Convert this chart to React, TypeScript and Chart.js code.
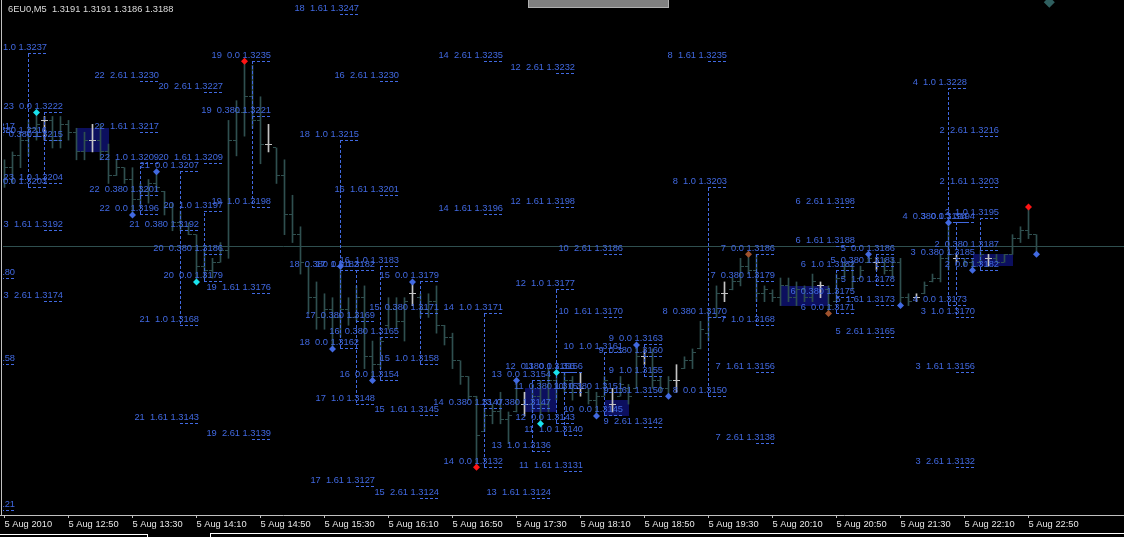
import React, { useEffect, useRef } from "react";
import { Chart, registerables } from "chart.js";

Chart.register(...registerables);

// Instrument header: symbol, timeframe and last bar O H L C
const chartTitle = "6EU0,M5  1.3191 1.3191 1.3186 1.3188";

// 5-minute OHLC bars, 5 Aug 2010 12:10 .. 22:55
const barOpen = [
  1.3205, 1.3208, 1.3211, 1.3215, 1.3218, 1.3220, 1.3220, 1.3215, 1.3219, 1.3217,
  1.3212, 1.3215, 1.3215, 1.3212, 1.3206, 1.3208, 1.3205, 1.3200, 1.3202, 1.3204,
  1.3202, 1.3198, 1.3194, 1.3193, 1.3191, 1.3183, 1.3182, 1.3184, 1.3187, 1.3215,
  1.3222, 1.3226, 1.3220, 1.3214, 1.3213, 1.3206, 1.3196, 1.3191, 1.3183, 1.3175,
  1.3170, 1.3172, 1.3170, 1.3172, 1.3170, 1.3175, 1.3160, 1.3158, 1.3168, 1.3172,
  1.3169, 1.3176, 1.3175, 1.3172, 1.3174, 1.3168, 1.3165, 1.3159, 1.3155, 1.3150,
  1.3141, 1.3145, 1.3146, 1.3144, 1.3146, 1.3148, 1.3148, 1.3150, 1.3148, 1.3154,
  1.3152, 1.3154, 1.3152, 1.3151, 1.3149, 1.3150, 1.3148, 1.3150, 1.3152, 1.3152,
  1.3160, 1.3160, 1.3154, 1.3152, 1.3154, 1.3157, 1.3159, 1.3162, 1.3166, 1.3170,
  1.3176, 1.3177, 1.3179, 1.3183, 1.3182, 1.3176, 1.3176, 1.3175, 1.3178, 1.3175,
  1.3177, 1.3175, 1.3178, 1.3177, 1.3174, 1.3180, 1.3183, 1.3180, 1.3184, 1.3184,
  1.3184, 1.3182, 1.3184, 1.3175, 1.3175, 1.3176, 1.3179, 1.3180, 1.3185, 1.3185,
  1.3185, 1.3184, 1.3184, 1.3185, 1.3185, 1.3184, 1.3186, 1.3190, 1.3192, 1.3191,
];
const barHigh = [
  1.3210, 1.3212, 1.3217, 1.3220, 1.3222, 1.3221, 1.3221, 1.3221, 1.3220, 1.3218,
  1.3217, 1.3219, 1.3219, 1.3214, 1.3210, 1.3208, 1.3208, 1.3204, 1.3205, 1.3207,
  1.3202, 1.3199, 1.3197, 1.3194, 1.3191, 1.3187, 1.3185, 1.3189, 1.3220, 1.3225,
  1.3235, 1.3234, 1.3226, 1.3219, 1.3213, 1.3210, 1.3201, 1.3193, 1.3183, 1.3179,
  1.3176, 1.3175, 1.3183, 1.3175, 1.3178, 1.3178, 1.3164, 1.3165, 1.3175, 1.3175,
  1.3175, 1.3179, 1.3176, 1.3176, 1.3178, 1.3168, 1.3166, 1.3159, 1.3155, 1.3150,
  1.3147, 1.3148, 1.3151, 1.3146, 1.3154, 1.3151, 1.3153, 1.3154, 1.3157, 1.3156,
  1.3156, 1.3155, 1.3156, 1.3152, 1.3151, 1.3155, 1.3152, 1.3155, 1.3153, 1.3163,
  1.3162, 1.3162, 1.3155, 1.3155, 1.3158, 1.3160, 1.3162, 1.3169, 1.3172, 1.3178,
  1.3179, 1.3180, 1.3185, 1.3186, 1.3186, 1.3178, 1.3177, 1.3180, 1.3180, 1.3179,
  1.3178, 1.3181, 1.3179, 1.3178, 1.3181, 1.3184, 1.3184, 1.3183, 1.3186, 1.3185,
  1.3185, 1.3185, 1.3185, 1.3176, 1.3176, 1.3179, 1.3181, 1.3186, 1.3195, 1.3186,
  1.3185, 1.3185, 1.3187, 1.3186, 1.3186, 1.3186, 1.3191, 1.3193, 1.3198, 1.3191,
];
const barLow = [
  1.3203, 1.3204, 1.3208, 1.3211, 1.3215, 1.3215, 1.3213, 1.3213, 1.3215, 1.3210,
  1.3210, 1.3212, 1.3210, 1.3204, 1.3206, 1.3204, 1.3196, 1.3198, 1.3199, 1.3202,
  1.3196, 1.3192, 1.3192, 1.3191, 1.3179, 1.3180, 1.3180, 1.3184, 1.3185, 1.3211,
  1.3216, 1.3218, 1.3209, 1.3212, 1.3204, 1.3191, 1.3189, 1.3181, 1.3171, 1.3167,
  1.3167, 1.3162, 1.3165, 1.3168, 1.3169, 1.3157, 1.3154, 1.3157, 1.3167, 1.3167,
  1.3164, 1.3173, 1.3170, 1.3170, 1.3166, 1.3163, 1.3157, 1.3153, 1.3149, 1.3132,
  1.3141, 1.3143, 1.3143, 1.3138, 1.3146, 1.3145, 1.3146, 1.3143, 1.3146, 1.3149,
  1.3151, 1.3149, 1.3150, 1.3148, 1.3145, 1.3150, 1.3146, 1.3150, 1.3148, 1.3152,
  1.3158, 1.3152, 1.3151, 1.3150, 1.3151, 1.3157, 1.3157, 1.3162, 1.3164, 1.3170,
  1.3174, 1.3177, 1.3178, 1.3181, 1.3174, 1.3174, 1.3174, 1.3173, 1.3174, 1.3173,
  1.3174, 1.3174, 1.3175, 1.3171, 1.3174, 1.3180, 1.3177, 1.3180, 1.3184, 1.3182,
  1.3181, 1.3180, 1.3173, 1.3173, 1.3174, 1.3176, 1.3179, 1.3179, 1.3182, 1.3184,
  1.3183, 1.3182, 1.3184, 1.3183, 1.3184, 1.3184, 1.3186, 1.3189, 1.3190, 1.3186,
];
const barClose = [
  1.3208, 1.3211, 1.3215, 1.3218, 1.3219, 1.3220, 1.3215, 1.3219, 1.3217, 1.3212,
  1.3215, 1.3215, 1.3212, 1.3206, 1.3208, 1.3205, 1.3200, 1.3202, 1.3204, 1.3203,
  1.3198, 1.3194, 1.3193, 1.3191, 1.3183, 1.3182, 1.3184, 1.3187, 1.3215, 1.3222,
  1.3226, 1.3220, 1.3214, 1.3214, 1.3206, 1.3196, 1.3191, 1.3184, 1.3175, 1.3170,
  1.3172, 1.3170, 1.3172, 1.3170, 1.3175, 1.3160, 1.3158, 1.3164, 1.3172, 1.3169,
  1.3174, 1.3176, 1.3172, 1.3174, 1.3168, 1.3165, 1.3159, 1.3155, 1.3150, 1.3140,
  1.3145, 1.3146, 1.3144, 1.3145, 1.3152, 1.3148, 1.3150, 1.3148, 1.3154, 1.3152,
  1.3154, 1.3151, 1.3152, 1.3149, 1.3150, 1.3154, 1.3148, 1.3153, 1.3150, 1.3160,
  1.3160, 1.3154, 1.3152, 1.3154, 1.3154, 1.3159, 1.3161, 1.3167, 1.3170, 1.3176,
  1.3176, 1.3179, 1.3183, 1.3182, 1.3176, 1.3177, 1.3175, 1.3178, 1.3175, 1.3177,
  1.3175, 1.3179, 1.3178, 1.3173, 1.3180, 1.3183, 1.3179, 1.3182, 1.3185, 1.3184,
  1.3182, 1.3184, 1.3175, 1.3174, 1.3175, 1.3178, 1.3180, 1.3185, 1.3186, 1.3185,
  1.3184, 1.3183, 1.3186, 1.3185, 1.3184, 1.3186, 1.3190, 1.3192, 1.3191, 1.3188,
];

// Time axis: one label every 8 bars (40 minutes)
const timeTickIndex = [0, 8, 16, 24, 32, 40, 48, 56, 64, 72, 80, 88, 96, 104, 112, 120, 128];
const timeTickLabels = [
  "5 Aug 2010", "5 Aug 12:50", "5 Aug 13:30", "5 Aug 14:10", "5 Aug 14:50", "5 Aug 15:30",
  "5 Aug 16:10", "5 Aug 16:50", "5 Aug 17:30", "5 Aug 18:10", "5 Aug 18:50", "5 Aug 19:30",
  "5 Aug 20:10", "5 Aug 20:50", "5 Aug 21:30", "5 Aug 22:10", "5 Aug 22:50",
];

// Fibonacci level labels: swing number, ratio, price
const levelGroup = [
  25, 25, 25, 25,
  24, 24, 24,
  23, 23, 23, 23, 23,
  22, 22, 22, 22, 22,
  21, 21, 21, 21,
  20, 20, 20, 20, 20,
  19, 19, 19, 19, 19,
  18, 18, 18, 18,
  17, 17, 17, 17,
  16, 16, 16, 16, 16,
  15, 15, 15, 15, 15,
  14, 14, 14, 14, 14,
  13, 13, 13, 13,
  12, 12, 12, 12, 12,
  11, 11, 11, 11,
  10, 10, 10, 10, 10,
  9, 9, 9, 9, 9,
  8, 8, 8, 8,
  7, 7, 7, 7, 7,
  6, 6, 6, 6, 6,
  5, 5, 5, 5, 5,
  4, 4, 4,
  3, 3, 3, 3, 3,
  2, 2, 2, 2, 2,
];
const levelRatio = [
  "1.0", "0.61", "0.380", "0.0",
  "1.0", "0.380", "0.0",
  "0.0", "0.380", "1.0", "1.61", "2.61",
  "2.61", "1.61", "1.0", "0.380", "0.0",
  "0.0", "0.380", "1.0", "1.61",
  "2.61", "1.61", "1.0", "0.380", "0.0",
  "0.0", "0.380", "1.0", "1.61", "2.61",
  "1.61", "1.0", "0.380", "0.0",
  "0.0", "0.380", "1.0", "1.61",
  "2.61", "1.61", "1.0", "0.380", "0.0",
  "0.0", "0.380", "1.0", "1.61", "2.61",
  "2.61", "1.61", "1.0", "0.380", "0.0",
  "0.0", "0.380", "1.0", "1.61",
  "2.61", "1.61", "1.0", "0.380", "0.0",
  "0.0", "0.380", "1.0", "1.61",
  "2.61", "1.61", "1.0", "0.380", "0.0",
  "0.0", "0.380", "1.0", "1.61", "2.61",
  "1.61", "1.0", "0.380", "0.0",
  "0.0", "0.380", "1.0", "1.61", "2.61",
  "2.61", "1.61", "1.0", "0.380", "0.0",
  "0.0", "0.380", "1.0", "1.61", "2.61",
  "1.0", "0.380", "0.0",
  "0.0", "0.380", "1.0", "1.61", "2.61",
  "2.61", "1.61", "1.0", "0.380", "0.0",
];
const levelPrice = [
  1.3217, 1.3180, 1.3158, 1.3121,
  1.3237, 1.3216, 1.3203,
  1.3222, 1.3215, 1.3204, 1.3192, 1.3174,
  1.3230, 1.3217, 1.3209, 1.3201, 1.3196,
  1.3207, 1.3192, 1.3168, 1.3143,
  1.3227, 1.3209, 1.3197, 1.3186, 1.3179,
  1.3235, 1.3221, 1.3198, 1.3176, 1.3139,
  1.3247, 1.3215, 1.3182, 1.3162,
  1.3182, 1.3169, 1.3148, 1.3127,
  1.3230, 1.3201, 1.3183, 1.3165, 1.3154,
  1.3179, 1.3171, 1.3158, 1.3145, 1.3124,
  1.3235, 1.3196, 1.3171, 1.3147, 1.3132,
  1.3154, 1.3147, 1.3136, 1.3124,
  1.3232, 1.3198, 1.3177, 1.3156, 1.3143,
  1.3156, 1.3151, 1.3140, 1.3131,
  1.3186, 1.3170, 1.3161, 1.3151, 1.3145,
  1.3163, 1.3160, 1.3155, 1.3150, 1.3142,
  1.3235, 1.3203, 1.3170, 1.3150,
  1.3186, 1.3179, 1.3168, 1.3156, 1.3138,
  1.3198, 1.3188, 1.3182, 1.3175, 1.3171,
  1.3186, 1.3183, 1.3178, 1.3173, 1.3165,
  1.3228, 1.3194, 1.3173,
  1.3194, 1.3185, 1.3170, 1.3156, 1.3132,
  1.3216, 1.3203, 1.3195, 1.3187, 1.3182,
];
// Bar on which each swing's levels are anchored
const groupAnchorGroup = [25, 24, 23, 22, 21, 20, 19, 18, 17, 16, 15, 14, 13, 12, 11, 10, 9, 8, 7, 6, 5, 4, 3, 2];
const groupAnchorBar = [-1, 3, 5, 17, 22, 25, 31, 42, 44, 47, 52, 60, 66, 69, 70, 75, 80, 88, 94, 104, 109, 118, 119, 122];

// Swing markers: bar, price, kind (0 swing, 1 impulse, 2 extreme, 3 reversal, 4 off-range)
const markIndex = [4, 16, 19, 24, 30, 41, 42, 46, 51, 59, 64, 67, 69, 74, 79, 83, 93, 103, 108, 112, 118, 121, 128, 129, 130.6];
const markPrice = [
  1.3222, 1.3196, 1.3207, 1.3179, 1.3235, 1.3162, 1.3183, 1.3154, 1.3179, 1.3132, 1.3154, 1.3143,
  1.3156, 1.3145, 1.3163, 1.3150, 1.3186, 1.3171, 1.3186, 1.3173, 1.3194, 1.3182, 1.3198, 1.3186, 1.3250,
];
const markKind = [1, 0, 0, 1, 2, 0, 0, 0, 0, 2, 0, 1, 1, 0, 0, 0, 3, 3, 0, 0, 0, 0, 2, 0, 4];

// Highlighted consolidation zones: first bar, last bar, upper and lower price
const zoneFrom = [9, 65, 75, 97, 121];
const zoneTo = [13, 69, 78, 103, 126];
const zoneHigh = [1.3218, 1.3152, 1.3149, 1.3178, 1.3186];
const zoneLow = [1.3212, 1.3146, 1.3145, 1.3173, 1.3183];

const FONT_FAMILY = '"Liberation Sans", Arial, sans-serif';
const TEXT_FONT = `9.3px ${FONT_FAMILY}`;
const LEVEL_BLUE = "#4169e1";
const BAR_COLOR = "#2f4f4f";
const DOJI_COLOR = "#c4c4c4";
const MARK_COLORS = ["#4169e1", "#19e3ee", "#ff1414", "#a0522d", "#2f5f5f"];
const UNDERLINE = 19;

const barColors = barOpen.map((o, i) => (o === barClose[i] ? DOJI_COLOR : BAR_COLOR));

const terminalPlugin = {
  id: "terminal",
  beforeDatasetsDraw(chart: any) {
    const { ctx, chartArea: a } = chart;
    const xs = chart.scales.x;
    const ys = chart.scales.y;
    ctx.save();
    ctx.beginPath();
    ctx.rect(a.left, a.top, a.right - a.left, a.bottom - a.top);
    ctx.clip();
    // consolidation zones
    ctx.fillStyle = "#0c0f5e";
    zoneFrom.forEach((f, k) => {
      const x0 = Math.round(xs.getPixelForValue(f));
      const x1 = Math.round(xs.getPixelForValue(zoneTo[k]));
      const y0 = Math.round(ys.getPixelForValue(zoneHigh[k]));
      const y1 = Math.round(ys.getPixelForValue(zoneLow[k]));
      ctx.fillRect(x0, y0, x1 - x0, y1 - y0);
    });
    // bid line at the last close
    const yb = Math.floor(ys.getPixelForValue(barClose[barClose.length - 1])) + 0.5;
    ctx.strokeStyle = BAR_COLOR;
    ctx.lineWidth = 1;
    ctx.beginPath();
    ctx.moveTo(a.left, yb);
    ctx.lineTo(a.right, yb);
    ctx.stroke();
    ctx.restore();
  },
  beforeDatasetDraw(chart: any, args: any) {
    if (args.index !== 1) return;
    const { ctx, chartArea: a } = chart;
    const xs = chart.scales.x;
    const ys = chart.scales.y;
    ctx.save();
    ctx.beginPath();
    ctx.rect(a.left, a.top, a.right - a.left, a.bottom - a.top);
    ctx.clip();

    // open (left) and close (right) ticks of each bar
    barOpen.forEach((o, i) => {
      const c = Math.floor(xs.getPixelForValue(i));
      ctx.fillStyle = barColors[i];
      ctx.fillRect(c - 3, Math.floor(ys.getPixelForValue(o)), 3, 1);
      ctx.fillRect(c + 1, Math.floor(ys.getPixelForValue(barClose[i])), 3, 1);
    });

    ctx.strokeStyle = LEVEL_BLUE;
    ctx.lineWidth = 1;
    ctx.setLineDash([3, 2]);

    // swing legs: dashed vertical from the 0.0 level to the 1.0 level
    groupAnchorGroup.forEach((g, k) => {
      let p0 = NaN;
      let p1 = NaN;
      levelGroup.forEach((lg, j) => {
        if (lg !== g) return;
        if (levelRatio[j] === "0.0") p0 = levelPrice[j];
        if (levelRatio[j] === "1.0") p1 = levelPrice[j];
      });
      if (isNaN(p0) || isNaN(p1)) return;
      const x = Math.floor(xs.getPixelForValue(groupAnchorBar[k])) + 0.5;
      ctx.beginPath();
      ctx.moveTo(x, Math.floor(ys.getPixelForValue(p0)));
      ctx.lineTo(x, Math.floor(ys.getPixelForValue(p1)));
      ctx.stroke();
    });

    // level labels with dashed underline
    ctx.font = TEXT_FONT;
    ctx.textAlign = "right";
    ctx.textBaseline = "alphabetic";
    ctx.fillStyle = LEVEL_BLUE;
    levelGroup.forEach((g, j) => {
      const bar = groupAnchorBar[groupAnchorGroup.indexOf(g)];
      const ax = Math.floor(xs.getPixelForValue(bar));
      const py = Math.floor(ys.getPixelForValue(levelPrice[j]));
      ctx.fillText(`${g}  ${levelRatio[j]} ${levelPrice[j].toFixed(4)}`, ax + UNDERLINE, py - 3);
      ctx.beginPath();
      ctx.moveTo(ax, py + 0.5);
      ctx.lineTo(ax + UNDERLINE, py + 0.5);
      ctx.stroke();
    });
    ctx.restore();
  },
  afterDraw(chart: any) {
    const { ctx, chartArea: a } = chart;
    ctx.save();
    ctx.fillStyle = "#c0c0c0";
    ctx.fillRect(1, 0, 1, a.bottom + 1);
    ctx.fillRect(0, a.bottom, a.left, 1);
    ctx.font = TEXT_FONT;
    ctx.textAlign = "left";
    ctx.textBaseline = "alphabetic";
    ctx.fillStyle = "#dcdcdc";
    ctx.fillText(chartTitle, 8, 12);
    ctx.restore();
  },
};

export default function App() {
  const canvasRef = useRef<HTMLCanvasElement>(null);

  useEffect(() => {
    document.body.style.margin = "0";
    document.body.style.background = "#000";
    const canvas = canvasRef.current;
    if (!canvas) return;

    const chart = new Chart(canvas, {
      type: "bar",
      data: {
        datasets: [
          {
            type: "bar",
            data: barHigh.map((h, i) => ({ x: i, y: [barLow[i], h] })) as any,
            backgroundColor: barColors,
            barThickness: 1,
            borderWidth: 0,
            minBarLength: 1,
            order: 2,
          },
          {
            type: "scatter",
            data: markIndex.map((v, k) => ({ x: v, y: markPrice[k] })),
            pointStyle: "rectRot",
            pointRadius: markKind.map((t) => (t === 4 ? 5.5 : 3.5)),
            pointBackgroundColor: markKind.map((t) => MARK_COLORS[t]),
            pointBorderWidth: 0,
            order: 1,
          } as any,
        ],
      },
      options: {
        responsive: false,
        animation: false,
        devicePixelRatio: 1,
        events: [],
        layout: { autoPadding: false, padding: { left: 3, right: 0, top: 0, bottom: 0 } },
        plugins: { legend: { display: false }, tooltip: { enabled: false } },
        scales: {
          x: {
            type: "linear",
            min: -0.1875,
            max: 139.9375,
            offset: false,
            afterBuildTicks: (scale: any) => {
              scale.ticks = timeTickIndex.map((v) => ({ value: v }));
            },
            afterFit: (scale: any) => {
              scale.height = 22;
            },
            ticks: {
              autoSkip: false,
              maxRotation: 0,
              minRotation: 0,
              align: "start",
              padding: 1,
              color: "#e6e6e6",
              font: { family: FONT_FAMILY, size: 9.3 },
              callback: (value: any) => timeTickLabels[timeTickIndex.indexOf(Number(value))] ?? "",
            },
            grid: {
              display: true,
              drawOnChartArea: false,
              drawTicks: true,
              tickLength: 3,
              color: "#c0c0c0",
              offset: false,
            },
            border: { display: true, color: "#c0c0c0" },
          },
          y: {
            type: "linear",
            display: false,
            min: 1.311985,
            max: 1.325056,
          },
        },
      } as any,
      plugins: [terminalPlugin],
    });

    return () => chart.destroy();
  }, []);

  return (
    <div
      style={{
        position: "fixed",
        left: 0,
        top: 0,
        width: 1124,
        height: 537,
        background: "#000",
        overflow: "hidden",
      }}
    >
      <canvas ref={canvasRef} width={1124} height={537} style={{ display: "block" }} />
      <div
        style={{
          position: "absolute",
          left: 528,
          top: 0,
          width: 139,
          height: 7,
          background: "#808080",
          border: "1px solid #b0b0b0",
          borderTop: "none",
        }}
      />
      <div
        style={{
          position: "absolute",
          left: 0,
          top: 534,
          width: 147,
          height: 3,
          borderTop: "1px solid #ffffff",
          borderRight: "1px solid #ffffff",
        }}
      />
      <div
        style={{
          position: "absolute",
          left: 210,
          top: 533,
          width: 914,
          height: 4,
          borderTop: "1px solid #ffffff",
          borderLeft: "1px solid #ffffff",
        }}
      />
    </div>
  );
}
